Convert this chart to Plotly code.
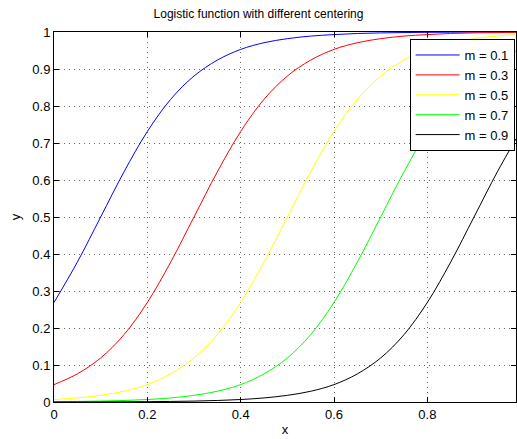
import plotly.graph_objects as go

x_vals = [0.0, 0.05, 0.1, 0.15, 0.2, 0.25, 0.3, 0.35, 0.4, 0.45, 0.5,
          0.55, 0.6, 0.65, 0.7, 0.75, 0.8, 0.85, 0.9, 0.95, 0.99]

y_m01 = [0.269, 0.378, 0.5, 0.622, 0.731, 0.818, 0.881, 0.924, 0.953, 0.971, 0.982,
         0.989, 0.993, 0.996, 0.9975, 0.9985, 0.9991, 0.9995, 0.9997, 0.9998, 0.9999]
y_m03 = [0.047, 0.076, 0.119, 0.182, 0.269, 0.378, 0.5, 0.622, 0.731, 0.818, 0.881,
         0.924, 0.953, 0.971, 0.982, 0.989, 0.993, 0.996, 0.9975, 0.9985, 0.999]
y_m05 = [0.0067, 0.011, 0.018, 0.029, 0.047, 0.076, 0.119, 0.182, 0.269, 0.378, 0.5,
         0.622, 0.731, 0.818, 0.881, 0.924, 0.953, 0.971, 0.982, 0.989, 0.9926]
y_m07 = [0.0009, 0.0015, 0.0025, 0.0041, 0.0067, 0.011, 0.018, 0.029, 0.047, 0.076, 0.119,
         0.182, 0.269, 0.378, 0.5, 0.622, 0.731, 0.818, 0.881, 0.924, 0.948]
y_m09 = [0.0001, 0.0002, 0.0003, 0.0006, 0.0009, 0.0015, 0.0025, 0.0041, 0.0067, 0.011, 0.018,
         0.029, 0.047, 0.076, 0.119, 0.182, 0.269, 0.378, 0.5, 0.622, 0.711]

series_names = ["m = 0.1", "m = 0.3", "m = 0.5", "m = 0.7", "m = 0.9"]
series_vals = [y_m01, y_m03, y_m05, y_m07, y_m09]
colors = ["#0000ff", "#ff0000", "#ffff00", "#00ff00", "#000000"]

x_ticks = [0, 0.2, 0.4, 0.6, 0.8]
x_tick_labels = ["0", "0.2", "0.4", "0.6", "0.8"]
y_ticks = [0, 0.1, 0.2, 0.3, 0.4, 0.5, 0.6, 0.7, 0.8, 0.9, 1.0]
y_tick_labels = ["0", "0.1", "0.2", "0.3", "0.4", "0.5", "0.6", "0.7", "0.8", "0.9", "1"]

fig = go.Figure()
for name, ys, c in zip(series_names, series_vals, colors):
    fig.add_trace(go.Scatter(x=x_vals, y=ys, mode="lines", name=name,
                             line=dict(color=c, width=1, shape="spline", smoothing=1.0)))

font_family = "Liberation Sans, Arial, Helvetica, sans-serif"
axis_common = dict(
    showline=True, linecolor="black", linewidth=1, mirror="ticks",
    ticks="inside", ticklen=5, tickcolor="black",
    showgrid=True, gridcolor="rgba(0,0,0,0.6)", griddash="1px,4px", gridwidth=1,
    zeroline=False, tickfont=dict(family=font_family, size=13, color="black"),
)

fig.update_layout(
    width=517, height=439,
    margin=dict(l=54, r=1, t=32, b=37),
    paper_bgcolor="white", plot_bgcolor="white",
    title=dict(text="Logistic function with different centering", x=0.5, xanchor="center",
               y=0.968, yanchor="middle",
               font=dict(family=font_family, size=12, color="black")),
    font=dict(family=font_family, size=12, color="black"),
    showlegend=True,
    legend=dict(x=0.997, y=0.981, xanchor="right", yanchor="top",
                bgcolor="white", bordercolor="black", borderwidth=1,
                font=dict(family=font_family, size=13, color="black"),
                tracegroupgap=0, itemwidth=44),
)
fig.update_xaxes(range=[0, 0.99], tickvals=x_ticks, ticktext=x_tick_labels,
                 title=dict(text="x", standoff=4, font=dict(family=font_family, size=13)),
                 **axis_common)
fig.update_yaxes(range=[0, 1], tickvals=y_ticks, ticktext=y_tick_labels,
                 title=dict(text="y", standoff=8, font=dict(family=font_family, size=13)),
                 **axis_common)

fig.write_html("out.html")
